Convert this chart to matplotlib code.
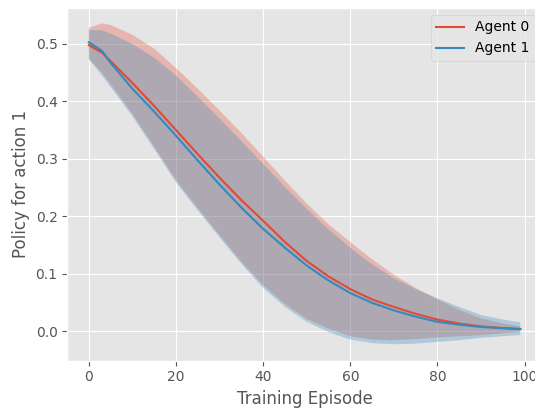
#!/usr/bin/env python3

import matplotlib
matplotlib.use('Agg')
import matplotlib.pyplot as plt

plt.style.use('ggplot')

episodes = [0, 3, 5, 10, 15, 20, 25, 30, 35, 40, 45, 50, 55, 60, 65, 70, 75, 80, 85, 90, 95, 99]

# Agent 0: mean policy and band
agent0_mean = [0.498, 0.485, 0.470, 0.432, 0.392, 0.350, 0.308, 0.267, 0.228, 0.192, 0.155,
               0.122, 0.095, 0.073, 0.055, 0.042, 0.030, 0.020, 0.013, 0.008, 0.005, 0.0035]
agent0_upper = [0.528, 0.536, 0.533, 0.516, 0.492, 0.458, 0.422, 0.384, 0.345, 0.304, 0.262,
                0.222, 0.186, 0.155, 0.125, 0.098, 0.075, 0.055, 0.037, 0.022, 0.013, 0.008]
agent0_lower = [0.475, 0.450, 0.430, 0.378, 0.321, 0.263, 0.214, 0.167, 0.121, 0.080, 0.047,
                0.021, 0.004, -0.009, -0.015, -0.016, -0.014, -0.011, -0.009, -0.007, -0.004, -0.001]

# Agent 1: mean policy and band
agent1_mean = [0.503, 0.488, 0.467, 0.422, 0.382, 0.340, 0.297, 0.255, 0.215, 0.178, 0.145,
               0.114, 0.088, 0.066, 0.049, 0.036, 0.025, 0.016, 0.011, 0.007, 0.005, 0.0035]
agent1_upper = [0.524, 0.524, 0.518, 0.500, 0.476, 0.445, 0.408, 0.370, 0.331, 0.291, 0.251,
                0.213, 0.177, 0.145, 0.116, 0.092, 0.073, 0.057, 0.042, 0.028, 0.020, 0.015]
agent1_lower = [0.473, 0.445, 0.425, 0.374, 0.317, 0.259, 0.210, 0.163, 0.117, 0.075, 0.042,
                0.016, -0.002, -0.015, -0.021, -0.023, -0.022, -0.019, -0.016, -0.012, -0.009, -0.007]

fig = plt.figure(figsize=(5.35, 4.08), dpi=100)
ax = fig.add_axes([0.1258, 0.1159, 0.887, 0.8645])

ax.plot(episodes, agent0_mean, label='Agent 0')
ax.fill_between(episodes, agent0_lower, agent0_upper, alpha=0.3)
ax.plot(episodes, agent1_mean, label='Agent 1')
ax.fill_between(episodes, agent1_lower, agent1_upper, alpha=0.3)

ax.set_xlim(-4.95, 103.95)
ax.set_ylim(-0.0517, 0.5627)
ax.set_xticks([0, 20, 40, 60, 80, 100])
ax.set_yticks([0.0, 0.1, 0.2, 0.3, 0.4, 0.5])
ax.set_xlabel('Training Episode')
ax.set_ylabel('Policy for action 1')
ax.legend(loc='upper right')

fig.savefig('out.png', dpi=100)
print("Saved out.png")
